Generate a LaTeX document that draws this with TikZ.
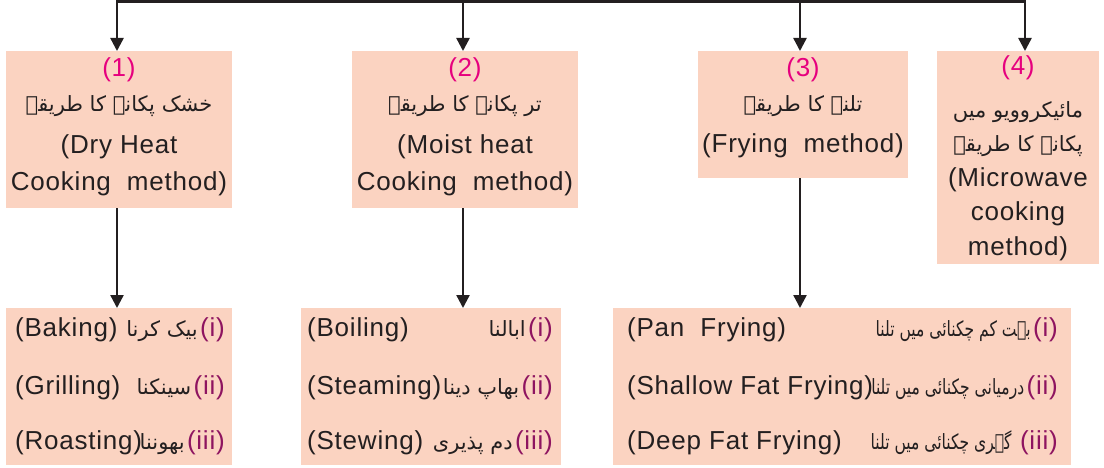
\documentclass[tikz,border=0pt]{standalone}
\usepackage{fontspec}
\setmainfont{Liberation Sans}[LetterSpace=3]
\newfontfamily\urdu[Script=Arabic]{DejaVu Sans}
\newfontfamily\urduc[Script=Arabic,FakeStretch=0.74]{DejaVu Sans}
\TeXXeTstate=1
\usetikzlibrary{arrows.meta}
\definecolor{boxfill}{HTML}{FBD3C1}
\definecolor{nummag}{HTML}{E6007E}
\definecolor{romanc}{HTML}{8E1460}
\definecolor{linec}{HTML}{231F20}
\tikzset{
  box/.style={fill=boxfill, draw=none, anchor=north west, inner sep=0pt},
  txt/.style={inner sep=0pt, anchor=base, text=linec, font=\fontsize{26}{30}\selectfont},
  num/.style={txt, text=nummag},
  ur/.style={inner sep=0pt, anchor=base, text=linec, font=\urdu\fontsize{21}{26}\selectfont},
  en/.style={txt, anchor=base west},
  rom/.style={txt, anchor=base east, text=romanc},
  urr/.style={ur, anchor=base east},
  urc/.style={urr, font=\urduc\fontsize{21}{26}\selectfont},
  conn/.style={draw=linec, line width=2.4pt},
  arr/.style={conn, -{Triangle[width=13pt,length=13pt]}},
  darr/.style={conn, {Triangle[width=13pt,length=13pt]}-{Triangle[width=13pt,length=13pt]}},
}
\begin{document}
\begin{tikzpicture}[x=1pt,y=-1pt]
\useasboundingbox (0,0) rectangle (1104,468);
% top boxes
\node[box, minimum width=226pt, minimum height=157pt] (b1) at (6,51) {};
\node[box, minimum width=226pt, minimum height=157pt] (b2) at (352,51) {};
\node[box, minimum width=210pt, minimum height=127pt] (b3) at (698,51) {};
\node[box, minimum width=162pt, minimum height=213pt] (b4) at (937,51) {};
% bottom boxes
\node[box, minimum width=226pt, minimum height=157pt] (bA) at (6,308) {};
\node[box, minimum width=260pt, minimum height=157pt] (bB) at (301,308) {};
\node[box, minimum width=458pt, minimum height=157pt] (bC) at (613,308) {};
% connectors
\coordinate (t1) at (117,1.5);
\coordinate (t2) at (463,1.5);
\coordinate (t3) at (800,1.5);
\coordinate (t4) at (1025,1.5);
\draw[darr] (t1 |- b1.north) -- (t1) -- (t4) -- (t4 |- b4.north);
\draw[arr] (t2) -- (t2 |- b2.north);
\draw[arr] (t3) -- (t3 |- b3.north);
\draw[arr] (t1 |- b1.south) -- (t1 |- bA.north);
\draw[arr] (t2 |- b2.south) -- (t2 |- bB.north);
\draw[arr] (t3 |- b3.south) -- (t3 |- bC.north);
% box 1
\node[num] (n1) at (119,77) {(1)};
\node[ur] (u1) at (119,112) {\beginR خشک پکانے کا طریقہ\endR};
\node[txt] (e1a) at (119,154) {(Dry Heat};
\node[txt] (e1b) at (119,190) {Cooking\ \ method)};
% box 2
\node[num] (n2) at (465,77) {(2)};
\node[ur] (u2) at (465,112) {\beginR تر پکانے کا طریقہ\endR};
\node[txt] (e2a) at (465,154) {(Moist heat};
\node[txt] (e2b) at (465,190) {Cooking\ \ method)};
% box 3
\node[num] (n3) at (803,77) {(3)};
\node[ur] (u3) at (803,112) {\beginR تلنے کا طریقہ\endR};
\node[txt] (e3a) at (803,153) {(Frying\ \ method)};
% box 4
\node[num] (n4) at (1018,75) {(4)};
\node[ur] (u4a) at (1018,118) {\beginR مائیکروویو میں\endR};
\node[ur] (u4b) at (1018,152) {\beginR پکانے کا طریقہ\endR};
\node[txt] (e4a) at (1018,187) {(Microwave};
\node[txt] (e4b) at (1018,221) {cooking};
\node[txt] (e4c) at (1018,255) {method)};
% box A
\node[en] (eA1) at (15,336) {(Baking)};
\node[en] (eA2) at (15,394) {(Grilling)};
\node[en] (eA3) at (15,449) {(Roasting)};
\node[rom] (rA1) at (225,336) {(i)};
\node[rom] (rA2) at (225,394) {(ii)};
\node[rom] (rA3) at (225,449) {(iii)};
\node[urr] (uA1) at ([xshift=-2pt]rA1.base west) {\beginR بیک کرنا\endR};
\node[urr] (uA2) at ([xshift=-2pt]rA2.base west) {\beginR سینکنا\endR};
\node[urr] (uA3) at ([xshift=-2pt]rA3.base west) {\beginR بھوننا\endR};
% box B
\node[en] (eB1) at (307,336) {(Boiling)};
\node[en] (eB2) at (307,394) {(Steaming)};
\node[en] (eB3) at (307,449) {(Stewing)};
\node[rom] (rB1) at (553,336) {(i)};
\node[rom] (rB2) at (553,394) {(ii)};
\node[rom] (rB3) at (553,449) {(iii)};
\node[urr] (uB1) at ([xshift=-2pt]rB1.base west) {\beginR ابالنا\endR};
\node[urr] (uB2) at ([xshift=-2pt]rB2.base west) {\beginR بھاپ دینا\endR};
\node[urr] (uB3) at ([xshift=-2pt]rB3.base west) {\beginR دم پذیری\endR};
% box C
\node[en] (eC1) at (627,336) {(Pan\ \ Frying)};
\node[en] (eC2) at (627,394) {(Shallow Fat Frying)};
\node[en] (eC3) at (627,449) {(Deep Fat Frying)};
\node[rom] (rC1) at (1058,336) {(i)};
\node[rom] (rC2) at (1058,394) {(ii)};
\node[rom] (rC3) at (1058,449) {(iii)};
\node[urc] (uC1) at ([xshift=-2pt]rC1.base west) {\beginR بہت کم چکنائی میں تلنا\endR};
\node[urc] (uC2) at ([xshift=-2pt]rC2.base west) {\beginR درمیانی چکنائی میں تلنا\endR};
\node[urc] (uC3) at ([xshift=-8pt]rC3.base west) {\beginR گہری چکنائی میں تلنا\endR};
\end{tikzpicture}
\end{document}
